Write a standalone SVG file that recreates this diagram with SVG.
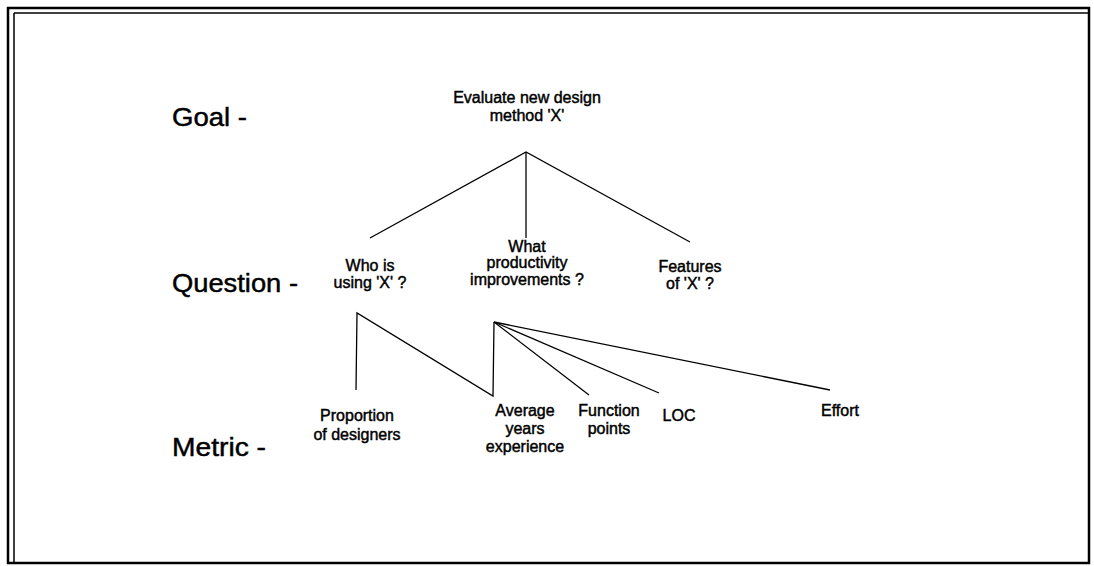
<svg xmlns="http://www.w3.org/2000/svg" width="1094" height="566" viewBox="0 0 1094 566">
<style>
text{font-family:"Liberation Sans",Arial,sans-serif;fill:#000;stroke:#000;stroke-width:0.45;text-anchor:middle}
.lvl{font-size:25px;text-anchor:start}
.n{font-size:16px}
.c{stroke:#000;stroke-width:1.3;fill:none}
.b{stroke:#000;fill:none}
</style>
<rect width="1094" height="566" fill="#fff"/>
<g id="frame">
<rect class="b" x="8" y="8" width="1081" height="555" stroke-width="2.5"/>
<line class="b" x1="14" y1="13" x2="1089" y2="13" stroke-width="1.5"/>
<line class="b" x1="14" y1="13" x2="14" y2="563" stroke-width="1.5"/>
</g>
<g id="levels">
<text class="lvl" x="172" y="126" textLength="75" lengthAdjust="spacingAndGlyphs">Goal -</text>
<text class="lvl" x="172" y="292" textLength="126" lengthAdjust="spacingAndGlyphs">Question -</text>
<text class="lvl" x="172" y="456" textLength="94" lengthAdjust="spacingAndGlyphs">Metric -</text>
</g>
<g id="connectors">
<polyline class="c" points="370,238 526,152 690,242"/>
<line class="c" x1="526" y1="152" x2="526" y2="238"/>
<polyline class="c" points="356,390 357,313 493,396 494,322"/>
<line class="c" x1="494" y1="322" x2="589" y2="395"/>
<line class="c" x1="494" y1="322" x2="659" y2="393"/>
<line class="c" x1="494" y1="322" x2="830" y2="390"/>
</g>
<g id="goal"><text class="n" x="527" y="103">Evaluate new design</text><text class="n" x="527" y="121">method 'X'</text></g>
<g id="q-who"><text class="n" x="370" y="271">Who is</text><text class="n" x="370" y="288">using 'X' ?</text></g>
<g id="q-what"><text class="n" x="527" y="252">What</text><text class="n" x="527" y="268">productivity</text><text class="n" x="527" y="285">improvements ?</text></g>
<g id="q-features"><text class="n" x="690" y="272">Features</text><text class="n" x="690" y="289">of 'X' ?</text></g>
<g id="m-proportion"><text class="n" x="357" y="421">Proportion</text><text class="n" x="357" y="440">of designers</text></g>
<g id="m-average"><text class="n" x="525" y="416">Average</text><text class="n" x="525" y="434">years</text><text class="n" x="525" y="452">experience</text></g>
<g id="m-function"><text class="n" x="609" y="416">Function</text><text class="n" x="609" y="434">points</text></g>
<g id="m-loc"><text class="n" x="679" y="421">LOC</text></g>
<g id="m-effort"><text class="n" x="840" y="416">Effort</text></g>
</svg>
